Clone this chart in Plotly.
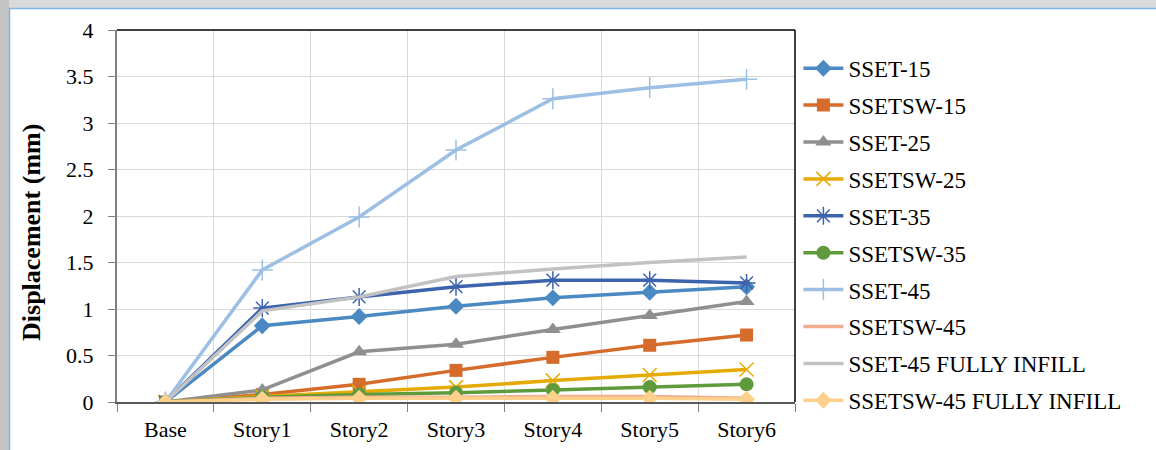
import plotly.graph_objects as go

stories = ["Base", "Story1", "Story2", "Story3", "Story4", "Story5", "Story6"]

sset_15 = [0, 0.82, 0.92, 1.03, 1.12, 1.18, 1.24]
ssetsw_15 = [0, 0.08, 0.19, 0.34, 0.48, 0.61, 0.72]
sset_25 = [0, 0.13, 0.54, 0.62, 0.78, 0.93, 1.08]
ssetsw_25 = [0, 0.06, 0.11, 0.16, 0.23, 0.29, 0.35]
sset_35 = [0, 1.01, 1.13, 1.24, 1.31, 1.31, 1.28]
ssetsw_35 = [0, 0.05, 0.08, 0.10, 0.13, 0.16, 0.19]
sset_45 = [0, 1.42, 1.99, 2.71, 3.26, 3.38, 3.47]
ssetsw_45 = [0, 0.04, 0.05, 0.05, 0.06, 0.06, 0.04]
sset_45_fi = [0, 0.98, 1.13, 1.35, 1.43, 1.50, 1.56]
ssetsw_45_fi = [0, 0.03, 0.04, 0.04, 0.04, 0.04, 0.03]

series = [
    ("SSET-15", sset_15, "#4a89c2", "diamond", 13),
    ("SSETSW-15", ssetsw_15, "#d56c2b", "square", 13),
    ("SSET-25", sset_25, "#8f8f8f", "triangle-up", 14),
    ("SSETSW-25", ssetsw_25, "#e6aa05", "x-thin-open", 14),
    ("SSET-35", sset_35, "#3c63ae", "asterisk-open", 15),
    ("SSETSW-35", ssetsw_35, "#5f9b3c", "circle", 14),
    ("SSET-45", sset_45, "#9dbfe4", "cross-thin-open", 15),
    ("SSETSW-45", ssetsw_45, "#f2ab8e", None, 0),
    ("SSET-45 FULLY INFILL", sset_45_fi, "#c2c2c2", None, 0),
    ("SSETSW-45 FULLY INFILL", ssetsw_45_fi, "#fdd18b", "diamond", 13),
]

FONT = "Liberation Serif"

fig = go.Figure()
for i, (name, vals, color, sym, size) in enumerate(series):
    if sym is None:
        mode = "lines"
        marker = None
    else:
        mode = "lines+markers"
        if sym.endswith("open"):
            marker = dict(symbol=sym, size=size, color=color,
                          line=dict(color=color, width=1.5))
        else:
            marker = dict(symbol=sym, size=size, color=color,
                          line=dict(width=0))
    fig.add_trace(go.Scatter(
        x=stories, y=vals, name=name, mode=mode,
        line=dict(color=color, width=3.5),
        marker=marker, legendgroup=f"g{i}",
    ))

fig.update_layout(
    width=1156, height=450,
    margin=dict(l=117, r=361, t=30, b=48),
    paper_bgcolor="white", plot_bgcolor="white",
    font=dict(family=FONT, color="black", size=22),
    showlegend=True,
    legend=dict(
        x=1.005, xanchor="left", y=0.955, yanchor="top",
        font=dict(family=FONT, size=23, color="black"),
        tracegroupgap=4, bgcolor="rgba(0,0,0,0)",
        itemwidth=40, maxheight=440,
    ),
    xaxis=dict(
        type="category", tickson="boundaries", automargin=False,
        showgrid=True, gridcolor="#d9d9d9", gridwidth=1,
        showline=True, linecolor="#595959", linewidth=2,
        ticks="outside", ticklen=8, tickcolor="#7f7f7f", tickwidth=1,
        tickfont=dict(family=FONT, size=22, color="black"),
        ticklabelstandoff=7,
        range=[-0.5, 6.5],
    ),
    yaxis=dict(
        range=[0, 4], dtick=0.5, tick0=0, automargin=False,
        showgrid=True, gridcolor="#d9d9d9", gridwidth=1, zeroline=False,
        showline=True, linecolor="#808080", linewidth=2,
        ticks="outside", ticklen=7, tickcolor="#808080", tickwidth=1,
        tickfont=dict(family=FONT, size=22, color="black"),
        ticklabelstandoff=10,
    ),
    annotations=[dict(
        text="Displacement (mm)", textangle=-90,
        xref="paper", yref="paper", x=-0.1254, y=0.457,
        xanchor="center", yanchor="middle", showarrow=False,
        font=dict(family=FONT, size=26, color="black", weight="bold"),
    )],
)

def px_x(p):
    return (p - 117) / 678.0

def px_y(p):
    return (402 - p) / 372.0

shapes = [
    dict(type="line", xref="paper", yref="paper", x0=0, x1=1, y0=1, y1=1,
         line=dict(color="black", width=1.5)),
    dict(type="line", xref="paper", yref="paper", x0=1, x1=1, y0=0, y1=1,
         line=dict(color="black", width=1.5)),
    dict(type="rect", xref="paper", yref="paper", x0=px_x(0), x1=px_x(1156),
         y0=px_y(8), y1=px_y(0), fillcolor="#dadada", line=dict(width=0), layer="above"),
    dict(type="rect", xref="paper", yref="paper", x0=px_x(0), x1=px_x(9),
         y0=px_y(450), y1=px_y(0), fillcolor="#c4c4c4", line=dict(width=0), layer="above"),
    dict(type="line", xref="paper", yref="paper", x0=px_x(9), x1=px_x(1156),
         y0=px_y(8.5), y1=px_y(8.5), line=dict(color="#7fb3ea", width=1.5), layer="above"),
    dict(type="line", xref="paper", yref="paper", x0=px_x(9.5), x1=px_x(9.5),
         y0=px_y(450), y1=px_y(8), line=dict(color="#7fb3ea", width=1.5), layer="above"),
]
fig.update_layout(shapes=shapes)

fig.write_html("out.html")
